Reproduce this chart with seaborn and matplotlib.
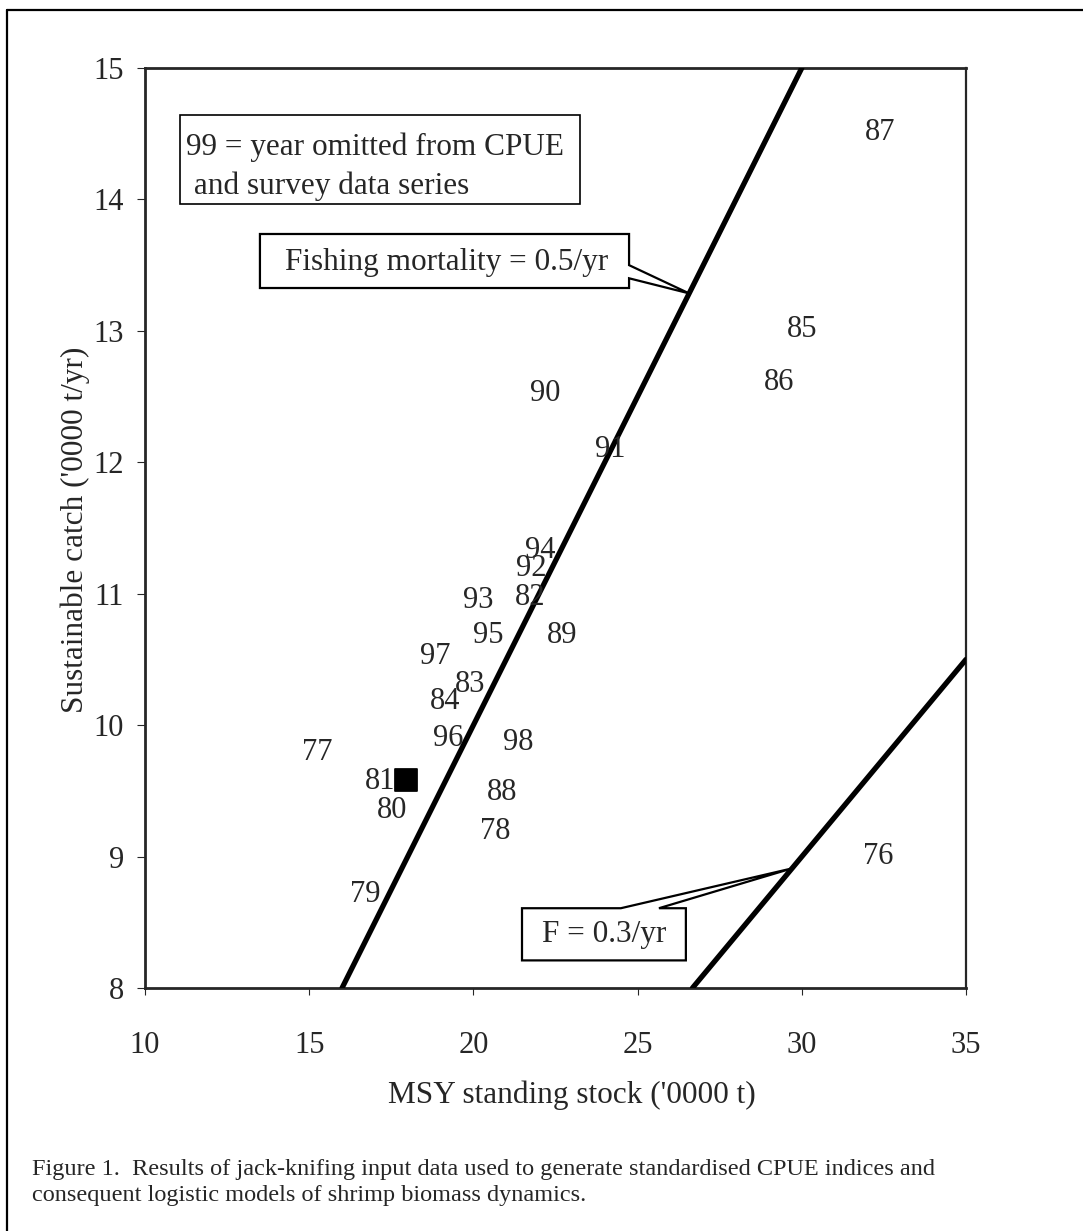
"""
Jack-knife results: MSY standing stock vs sustainable catch, labelled by omitted year
"""
import numpy as np
import matplotlib
matplotlib.use("Agg")
import matplotlib.pyplot as plt
import seaborn as sns
from matplotlib.patches import Polygon, Rectangle
from matplotlib.lines import Line2D

# year omitted and resulting estimates (label positions)
years = ['76', '77', '78', '79', '80', '81', '82', '83', '84', '85', '86', '87',
         '88', '89', '90', '91', '92', '93', '94', '95', '96', '97', '98']
stock = [32.32, 15.23, 20.66, 16.70, 17.51, 17.16, 21.74, 19.90, 19.14, 30.00, 29.31, 32.38,
         20.86, 22.69, 22.18, 24.16, 21.77, 20.15, 22.05, 20.45, 19.24, 18.83, 21.37]
catch = [9.00, 9.79, 9.19, 8.71, 9.35, 9.57, 10.97, 10.31, 10.18, 13.01, 12.61, 14.51,
         9.49, 10.68, 12.52, 12.10, 11.19, 10.95, 11.33, 10.68, 9.90, 10.52, 9.87]

# full data-set estimate (black square)
full_stock = [17.95]
full_catch = [9.58]

# constant fishing mortality lines
f05_stock = [16.0, 30.0]
f05_catch = [8.0, 15.0]
f03_stock = [26.67, 35.0]
f03_catch = [8.0, 10.5]

x_ticks = [10, 15, 20, 25, 30, 35]
y_ticks = [8, 9, 10, 11, 12, 13, 14, 15]

sns.set_style("ticks")
plt.rcParams['font.family'] = ['Liberation Serif', 'DejaVu Serif']

W, H = 1083, 1231
fig = plt.figure(figsize=(W / 100, H / 100), dpi=100)
ax = fig.add_axes([145 / W, 1 - 988 / H, (966 - 145) / W, (988 - 68) / H])

sns.lineplot(x=f05_stock, y=f05_catch, ax=ax, color='black', lw=3.8, zorder=3)
sns.lineplot(x=f03_stock, y=f03_catch, ax=ax, color='black', lw=3.8, zorder=3)
sns.scatterplot(x=full_stock, y=full_catch, ax=ax, marker='s', s=250,
                color='black', edgecolor='black', zorder=5)

for yr, sx, cy in zip(years, stock, catch):
    ax.text(sx, cy, yr, ha='center', va='center', fontsize=22, zorder=6)

ax.set_xlim(10, 35)
ax.set_ylim(8, 15)
ax.set_xticks(x_ticks)
ax.set_yticks(y_ticks)
ax.tick_params(axis='y', length=6, width=0.8, pad=9, labelsize=22)
ax.tick_params(axis='x', length=5, width=0.8, pad=26, labelsize=22)
for side in ['left', 'bottom', 'top']:
    ax.spines[side].set_linewidth(2.0)
ax.spines['right'].set_linewidth(1.6)
ax.set_xlabel('')
ax.set_ylabel('')

# note box
ax.add_patch(Rectangle((11.07, 13.965), 23.25 - 11.07, 14.64 - 13.965,
                       fc='white', ec='black', lw=1.2, zorder=4))
ax.text(11.25, 14.40, '99 = year omitted from CPUE', ha='left', va='center',
        fontsize=22.5, zorder=5)
ax.text(11.25, 14.10, ' and survey data series', ha='left', va='center',
        fontsize=22.5, zorder=5)


def callout(ax, verts, label, tx, ty):
    ax.add_patch(Polygon(verts, closed=True, fc='white', ec='black', lw=1.6, zorder=4))
    ax.text(tx, ty, label, ha='center', va='center', fontsize=22.5, zorder=5)


# F = 0.5 callout, wedge from right edge
tip_y = 13.285
tip_x = np.interp(tip_y, f05_catch, f05_stock)
x0, x1, yb, yt = 13.50, 24.74, 13.326, 13.737
callout(ax, [(x0, yb), (x1, yb), (x1, 13.40), (tip_x, tip_y), (x1, 13.50),
             (x1, yt), (x0, yt)],
        'Fishing mortality = 0.5/yr', 19.18, 13.52)

# F = 0.3 callout, wedge from top edge
tip_y = 8.91
tip_x = np.interp(tip_y, f03_catch, f03_stock)
x0, x1, yb, yt = 21.48, 26.47, 8.21, 8.607
callout(ax, [(x0, yb), (x1, yb), (x1, yt), (25.65, yt), (tip_x, tip_y),
             (24.49, yt), (x0, yt)],
        'F = 0.3/yr', 23.98, 8.41)

fig.text(572 / W, 1 - 1095 / H, "MSY standing stock ('0000 t)", ha='center', va='center',
         fontsize=22.5)
fig.text(75 / W, 1 - 530 / H, "Sustainable catch ('0000 t/yr)", ha='center', va='center',
         rotation=90, fontsize=22.5)

fig.text(32 / W, 1 - 1170 / H,
         'Figure 1.  Results of jack-knifing input data used to generate standardised CPUE indices and',
         ha='left', va='center', fontsize=17.5)
fig.text(32 / W, 1 - 1196 / H,
         'consequent logistic models of shrimp biomass dynamics.',
         ha='left', va='center', fontsize=17.5)

# outer frame (left and top edges only, the rest is cropped)
fig.add_artist(Line2D([7 / W, 7 / W], [0, 1 - 10 / H], transform=fig.transFigure,
                      color='black', lw=1.6))
fig.add_artist(Line2D([7 / W, 1], [1 - 10 / H, 1 - 10 / H], transform=fig.transFigure,
                      color='black', lw=1.6))

fig.savefig('out.png', dpi=100)
